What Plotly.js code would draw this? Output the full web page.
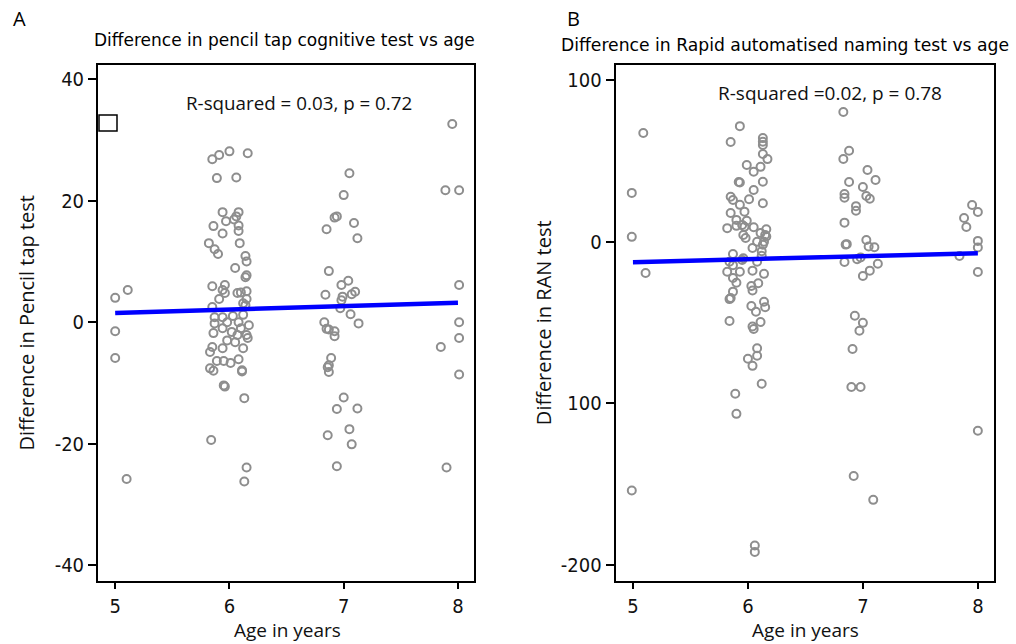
<!DOCTYPE html>
<html>
<head>
<meta charset="utf-8">
<script src="https://cdn.plot.ly/plotly-3.0.1.min.js"></script>
<style>html,body{margin:0;padding:0;background:#fff;}#chart{width:1016px;height:644px;}</style>
</head>
<body>
<div id="chart"></div>
<script>
// Panel A: pencil tap test difference vs age
const ageA = [5.00,5.11,5.00,5.00,5.10,
  7.95,7.89,8.01,8.01,8.01,8.01,7.85,8.01,7.90,
  7.05,7.00,6.94,6.92,7.09,6.85,7.12,6.87,7.04,6.98,7.10,7.07,6.84,6.99,6.98,6.97,7.06,7.13,6.83,6.85,6.87,6.92,6.92,6.89,6.87,6.86,6.87,7.00,6.94,7.12,7.05,6.86,7.07,6.94,
  5.85,5.91,6.00,6.16,5.89,6.06,5.94,6.08,6.06,5.97,6.04,5.86,6.08,5.94,6.08,5.82,5.87,5.90,6.09,6.14,6.15,6.05,6.15,6.14,5.85,5.96,5.96,5.94,6.07,6.10,6.15,6.15,5.91,5.85,6.14,6.12,5.87,5.94,6.03,6.12,5.87,5.98,6.08,6.17,5.94,6.02,5.86,6.07,6.15,6.16,6.05,5.85,5.94,6.12,5.83,5.89,5.95,6.01,6.08,5.83,5.86,6.11,6.11,5.95,5.96,6.13,5.84,6.15,6.13,5.98,6.10];
const diffA = [4.0,5.3,-1.5,-5.9,-25.8,
  32.6,21.7,21.7,6.1,0.0,-2.6,-4.1,-8.6,-23.9,
  24.5,20.9,17.4,17.2,16.3,15.3,13.8,8.4,6.8,6.1,5.0,4.6,4.5,4.2,3.6,2.3,1.3,-0.2,0.0,-1.1,-1.2,-1.5,-2.3,-5.9,-7.1,-7.4,-8.2,-12.4,-14.3,-14.2,-17.6,-18.6,-20.1,-23.7,
  26.8,27.5,28.1,27.8,23.7,23.8,18.1,18.1,17.4,16.6,16.9,15.8,15.9,14.6,15.0,13.0,12.0,11.2,13.0,10.9,10.0,8.9,7.7,7.4,5.9,6.1,4.8,5.3,4.8,4.9,5.1,3.8,3.8,2.5,2.8,3.1,0.8,0.8,1.0,1.2,-0.2,0.0,0.0,-0.5,-1.0,-1.6,-1.8,-2.1,-2.1,-2.6,-3.3,-4.1,-4.3,-4.3,-4.9,-6.4,-6.4,-6.7,-6.1,-7.6,-8.0,-7.9,-8.1,-10.4,-10.6,-12.5,-19.4,-23.9,-26.2,-3.0,-1.0];
const fitAgeA = [5, 8];
const fitA = [1.5, 3.2];

// Panel B: RAN test difference vs age
const ageB = [5.09,4.99,4.99,5.11,4.99,
  7.95,8.00,7.88,7.90,8.00,8.00,7.84,8.00,8.00,
  6.83,6.88,6.83,7.04,7.11,6.88,7.00,6.84,6.84,7.03,7.06,6.94,6.94,6.84,7.03,6.85,6.86,7.05,7.10,6.84,6.95,6.98,7.13,7.06,7.00,6.93,7.00,6.97,6.91,6.90,6.98,6.92,7.09,
  5.93,5.85,6.13,6.13,6.13,6.13,6.17,5.99,6.11,6.05,5.92,5.93,6.13,6.05,5.85,5.87,6.01,5.93,6.13,5.85,5.97,5.90,5.99,5.95,5.82,5.90,5.97,6.05,5.96,6.16,6.15,6.08,6.16,6.13,6.04,5.87,5.96,6.12,5.84,5.87,6.08,5.82,5.93,6.04,6.14,5.87,5.90,6.03,6.09,6.04,5.87,5.84,5.85,6.03,6.14,6.15,6.07,5.84,6.11,6.04,6.05,6.08,6.08,6.00,6.04,6.12,5.89,5.90,6.06,6.06,5.95,6.12,5.98,6.11,6.14];
const diffB = [67.2,30.1,2.9,-19.5,-154,
  22.6,18.3,14.6,9.0,0.4,-3.7,-8.9,-18.8,-117,
  80.1,56.2,51.1,44.3,38.1,36.8,33.8,29.4,27.1,28.2,26.5,21.9,19.1,11.7,1.0,-1.9,-1.6,-3.1,-3.5,-12.6,-10.9,-9.8,-13.7,-18.0,-21.3,-45.9,-50.3,-55.2,-66.5,-90,-90,-145,-159.8,
  71.4,61.6,64.0,61.7,59.7,54.2,51.0,47.4,46.2,43.2,36.8,36.5,37.0,31.9,27.7,25.7,26.2,22.7,23.7,17.7,18.5,13.4,12.9,10.3,8.3,9.7,9.1,8.8,4.0,7.6,4.1,-0.1,3.1,-2.0,-4.0,-7.7,-10.3,-8.8,-12.5,-14.6,-12.5,-18.7,-18.7,-18.0,-20.0,-22.6,-25.5,-27.5,-25.8,-30.3,-31.0,-35.6,-35.0,-39.9,-37.2,-40.6,-43.4,-49.2,-49.8,-52.6,-54.1,-66.0,-70.7,-72.5,-76.9,-88.0,-94.2,-106.6,-188.0,-192.0,-11.4,-6.0,2.2,5.3,-0.2];
const fitAgeB = [5, 8];
const fitB = [-12.8, -7.2];

const xTicks = [5, 6, 7, 8];
const yTicksA = [-40, -20, 0, 20, 40];
const yTextA = ["-40", "-20", "0", "20", "40"];
const yTicksB = [-200, -100, 0, 100];
const yTextB = ["-200", "100", "0", "100"];

const marker = {symbol: 'circle-open', size: 8, color: '#8e8e8e', line: {width: 2, color: '#8e8e8e'}};
const fitLine = {color: '#0000ff', width: 4.5};

const data = [
  {type: 'scatter', mode: 'markers', x: ageA, y: diffA, xaxis: 'x', yaxis: 'y', marker: marker, hoverinfo: 'x+y'},
  {type: 'scatter', mode: 'lines', x: fitAgeA, y: fitA, xaxis: 'x', yaxis: 'y', line: fitLine},
  {type: 'scatter', mode: 'markers', x: ageB, y: diffB, xaxis: 'x2', yaxis: 'y2', marker: marker, hoverinfo: 'x+y'},
  {type: 'scatter', mode: 'lines', x: fitAgeB, y: fitB, xaxis: 'x2', yaxis: 'y2', line: fitLine}
];

const tickFont = {family: 'Liberation Sans Narrow, DejaVu Sans Condensed, sans-serif', size: 20, color: '#111'};
const xTitleFont = {family: 'Open Sans, sans-serif', size: 19, color: '#111'};
const yTitleFont = {family: 'Open Sans, sans-serif', size: 20, color: '#111'};

function xAxis(domain, anchor) {
  return {domain: domain, anchor: anchor, range: [4.85, 8.14], tickvals: xTicks,
    ticks: 'outside', ticklen: 6, tickwidth: 2, tickcolor: '#000',
    showline: true, linewidth: 2, linecolor: '#000', mirror: true,
    showgrid: false, zeroline: false, tickfont: tickFont};
}
function yAxis(range, vals, text, anchor, title, standoff) {
  return {domain: [0.0986, 0.899], anchor: anchor, range: range, tickvals: vals, ticktext: text,
    ticks: 'outside', ticklen: 8, tickwidth: 2, tickcolor: '#000',
    showline: true, linewidth: 2, linecolor: '#000', mirror: true,
    showgrid: false, zeroline: false, tickfont: tickFont,
    title: {text: title, font: yTitleFont, standoff: standoff}};
}

const layout = {
  width: 1016, height: 644,
  margin: {l: 0, r: 0, t: 0, b: 0},
  paper_bgcolor: '#fff', plot_bgcolor: '#fff',
  showlegend: false,
  xaxis: xAxis([0.0965, 0.4665], 'y'),
  yaxis: yAxis([-42.5, 42.3], yTicksA, yTextA, 'x', 'Difference in Pencil tap test', 15),
  xaxis2: xAxis([0.606, 0.9783], 'y2'),
  yaxis2: yAxis([-209.7, 109.2], yTicksB, yTextB, 'x2', 'Difference in RAN test', 4),
  shapes: [
    {type: 'rect', xref: 'paper', yref: 'paper', x0: 99/1016, x1: 117/1016, y0: 1 - 131/644, y1: 1 - 115/644,
     line: {color: '#000', width: 1.5}, fillcolor: '#fff'}
  ],
  annotations: [
    {xref: 'paper', yref: 'paper', x: 19/1016, y: 1 - 19/644, xanchor: 'center', yanchor: 'middle', text: 'A', showarrow: false,
     font: {family: 'Open Sans, sans-serif', size: 20, color: '#000'}},
    {xref: 'paper', yref: 'paper', x: 573/1016, y: 1 - 19/644, xanchor: 'center', yanchor: 'middle', text: 'B', showarrow: false,
     font: {family: 'Open Sans, sans-serif', size: 20, color: '#000'}},
    {xref: 'paper', yref: 'paper', x: 284/1016, y: 1 - 40/644, xanchor: 'center', yanchor: 'middle', text: 'Difference in pencil tap cognitive test vs age', showarrow: false,
     font: {family: 'DejaVu Sans, sans-serif', size: 17, color: '#000'}},
    {xref: 'paper', yref: 'paper', x: 785/1016, y: 1 - 45/644, xanchor: 'center', yanchor: 'middle', text: 'Difference in Rapid automatised naming test vs age', showarrow: false,
     font: {family: 'DejaVu Sans, sans-serif', size: 17.2, color: '#000'}},
    {xref: 'paper', yref: 'paper', x: 299/1016, y: 1 - 103/644, xanchor: 'center', yanchor: 'middle', text: 'R-squared = 0.03, p = 0.72', showarrow: false,
     font: {family: 'Open Sans, sans-serif', size: 18.8, color: '#111'}},
    {xref: 'paper', yref: 'paper', x: 830/1016, y: 1 - 93/644, xanchor: 'center', yanchor: 'middle', text: 'R-squared =0.02, p = 0.78', showarrow: false,
     font: {family: 'Open Sans, sans-serif', size: 19, color: '#111'}},
    {xref: 'paper', yref: 'paper', x: 287/1016, y: 0, xanchor: 'center', yanchor: 'bottom', borderpad: 0, text: 'Age in years', showarrow: false,
     font: xTitleFont},
    {xref: 'paper', yref: 'paper', x: 805/1016, y: 0, xanchor: 'center', yanchor: 'bottom', borderpad: 0, text: 'Age in years', showarrow: false,
     font: xTitleFont}
  ]
};

Plotly.newPlot('chart', data, layout, {displayModeBar: false, staticPlot: true});
</script>
</body>
</html>
